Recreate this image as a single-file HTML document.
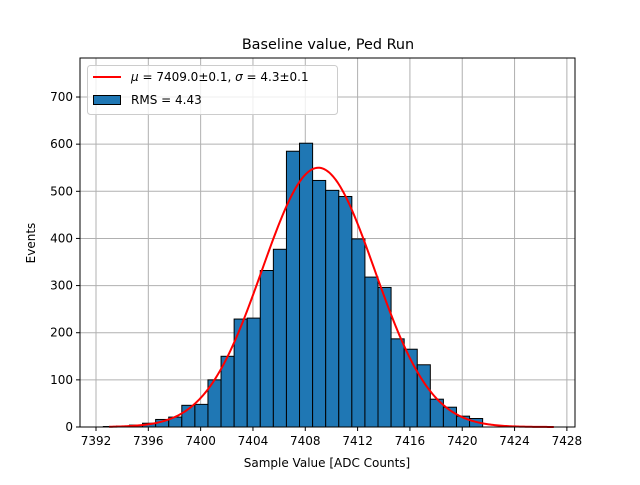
<!DOCTYPE html>
<html><head><meta charset="utf-8"><style>
body{margin:0;background:#fff}
svg text{font-family:"DejaVu Sans","Liberation Sans",sans-serif;}
</style></head><body>
<svg id="c" width="640" height="480" viewBox="0 0 640 480" xmlns="http://www.w3.org/2000/svg">
<rect width="640" height="480" fill="#fff"/>
<g id="grid"></g><g id="bars"></g><g id="fit"></g><g id="axes"></g>
</svg>
<script>
const binStart = 7392.56;
const binWidth = 1.0;
const counts = [1,2,4,8,16,21,46,48,100,150,229,231,332,377,585,602,523,502,489,399,318,296,187,165,132,59,42,23,18];
const xTicks = [7392,7396,7400,7404,7408,7412,7416,7420,7424,7428];
const yTicks = [0,100,200,300,400,500,600,700];
const fitMu = 7409.0, fitSigma = 4.3, fitAmp = 550;
const fitRange = [7393, 7427];

const NS="http://www.w3.org/2000/svg";
const L=80,R=575,T=58,B=427;
const xs=v=>96+(v-7392)*13.08;
const ys=v=>427-v*0.4714;
function mk(tag,attrs,parent){const e=document.createElementNS(NS,tag);for(const k in attrs)e.setAttribute(k,attrs[k]);parent.appendChild(e);return e;}
const grid=document.getElementById('grid'),bars=document.getElementById('bars'),fit=document.getElementById('fit'),axes=document.getElementById('axes');
xTicks.forEach(t=>{
 const g=mk('line',{x1:xs(t),x2:xs(t),y1:T,y2:B,stroke:'#b0b0b0','stroke-width':1},grid);
 
 
 mk('line',{x1:xs(t),x2:xs(t),y1:B,y2:B+4,stroke:'#000'},axes);
 const tx=mk('text',{x:xs(t),y:B+18,'font-size':12,'text-anchor':'middle'},axes);tx.textContent=t;
 
 
});
yTicks.forEach(t=>{
 const g=mk('line',{x1:L,x2:R,y1:ys(t),y2:ys(t),stroke:'#b0b0b0','stroke-width':1},grid);
 
 
 mk('line',{x1:L-4,x2:L,y1:ys(t),y2:ys(t),stroke:'#000'},axes);
 const tx=mk('text',{x:L-7,y:ys(t)+4,'font-size':12,'text-anchor':'end'},axes);tx.textContent=t;
 
 
});
counts.forEach((c,i)=>{
 const x0=xs(binStart+i*binWidth),x1=xs(binStart+(i+1)*binWidth);
 const r=mk('rect',{x:x0,y:ys(c),width:x1-x0,height:B-ys(c),fill:'#1f77b4',stroke:'#000','stroke-width':1},bars);
 
 
});
let d='';
for(let k=0;k<=300;k++){const v=fitRange[0]+(fitRange[1]-fitRange[0])*k/300;const y=fitAmp*Math.exp(-0.5*((v-fitMu)/fitSigma)**2);d+=(k?'L':'M')+xs(v).toFixed(2)+','+ys(y).toFixed(2);}
const p=mk('path',{d:d,fill:'none',stroke:'#ff0000','stroke-width':2},fit);


const fr=mk('rect',{x:L,y:T,width:R-L,height:B-T,fill:'none',stroke:'#000','stroke-width':1},axes);


</script>
<svg width="640" height="480" style="position:absolute;left:0;top:0" xmlns="http://www.w3.org/2000/svg">
<text x="328" y="49" font-size="14.4" text-anchor="middle" font-family="DejaVu Sans, Liberation Sans, sans-serif">Baseline value, Ped Run</text>
<text x="327" y="467" font-size="12" text-anchor="middle" font-family="DejaVu Sans, Liberation Sans, sans-serif">Sample Value [ADC Counts]</text>
<text x="35" y="243" font-size="12" text-anchor="middle" transform="rotate(-90 35 243)" font-family="DejaVu Sans, Liberation Sans, sans-serif">Events</text>
<g>
<rect x="87.5" y="65.5" width="250" height="49" rx="3" fill="#fff" fill-opacity="0.8" stroke="#ccc"/>
<line x1="93" x2="121" y1="77" y2="77" stroke="#ff0000" stroke-width="2"/>
<text x="131" y="81" font-size="12" font-family="DejaVu Sans, Liberation Sans, sans-serif"><tspan font-style="italic">μ</tspan> = 7409.0±0.1, <tspan font-style="italic">σ</tspan> = 4.3±0.1</text>
<rect x="93.5" y="95.5" width="27" height="9" fill="#1f77b4" stroke="#000"/>
<text x="131" y="104" font-size="12" font-family="DejaVu Sans, Liberation Sans, sans-serif">RMS = 4.43</text>
</g>
</svg>
</body></html>
